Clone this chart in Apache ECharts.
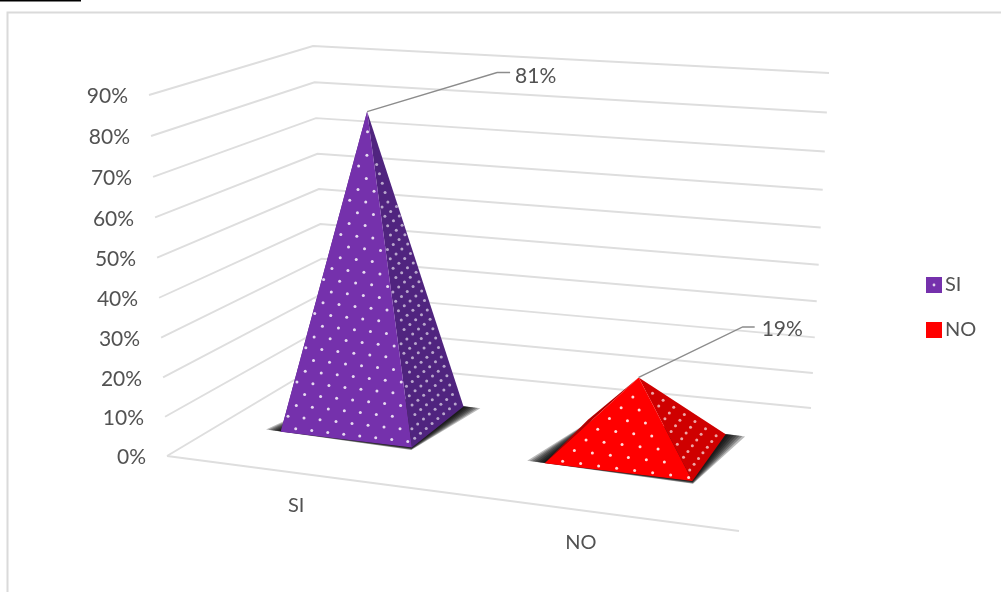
<!DOCTYPE html>
<html>
<head>
<meta charset="utf-8">
<style>html,body{margin:0;padding:0;background:#fff}#c{width:1001px;height:592px;filter:blur(0.45px)}</style>
<script src="https://cdn.jsdelivr.net/npm/echarts@6/dist/echarts.min.js"></script>
</head>
<body>
<div id="c"></div>
<script>
const categories = ['SI', 'NO'];
const siValues = [[0, 0.81]];
const noValues = [[1, 0.19]];
const siLabel = '81%';
const noLabel = '19%';
const tickValues = [0, 0.1, 0.2, 0.3, 0.4, 0.5, 0.6, 0.7, 0.8, 0.9];
const tickLabels = ['0%', '10%', '20%', '30%', '40%', '50%', '60%', '70%', '80%', '90%'];

const FONT = 'Lato, "Open Sans", sans-serif';
const TEXT = '#525252';
const AXIS_MAX = 0.9;

/* Perspective box: floor and ceiling quads (front-left, front-right, back-right, back-left) */
const floorQuad = [[167, 456], [739, 531], [811, 408], [326, 361]];
const topQuad = [[149, 95], [752, 156], [829, 73], [313, 46]];

function homography(q) {
  const [p0, p1, p2, p3] = q;
  const dx1 = p1[0] - p2[0], dx2 = p3[0] - p2[0], sx = p0[0] - p1[0] + p2[0] - p3[0];
  const dy1 = p1[1] - p2[1], dy2 = p3[1] - p2[1], sy = p0[1] - p1[1] + p2[1] - p3[1];
  const den = dx1 * dy2 - dx2 * dy1;
  const g = (sx * dy2 - dx2 * sy) / den, h = (dx1 * sy - sx * dy1) / den;
  const a = p1[0] - p0[0] + g * p1[0], b = p3[0] - p0[0] + h * p3[0], c = p0[0];
  const d = p1[1] - p0[1] + g * p1[1], e = p3[1] - p0[1] + h * p3[1], f = p0[1];
  return (u, v) => {
    const w = g * u + h * v + 1;
    return [(a * u + b * v + c) / w, (d * u + e * v + f) / w];
  };
}
const floorMap = homography(floorQuad);

/* u,v in floor units, w = 0..1 of the value axis */
function project(u, v, w) {
  const r = 1.025 + 0.03 * u + 0.015 * v;
  const t = w <= 0 ? 0 : w / (w + r * (1 - w));
  const A = floorMap(u, v);
  const weights = [(1 - u) * (1 - v), u * (1 - v), u * v, (1 - u) * v];
  let dx = 0, dy = 0;
  weights.forEach((k, i) => {
    dx += k * (topQuad[i][0] - floorQuad[i][0]);
    dy += k * (topQuad[i][1] - floorQuad[i][1]);
  });
  return [A[0] + dx * t, A[1] + dy * t];
}

/* Read the hidden cartesian scales and turn them into box coordinates */
function boxCoords(params, api, cat, val) {
  const cs = params.coordSys;
  const p = api.coord([cat, val]);
  return { u: (p[0] - cs.x) / cs.width, w: (cs.y + cs.height - p[1]) / cs.height };
}

function inside(p, t, margin) {
  let sign = 0;
  for (let i = 0; i < 3; i++) {
    const a = t[i], b = t[(i + 1) % 3];
    const ex = b[0] - a[0], ey = b[1] - a[1], len = Math.hypot(ex, ey);
    const d = (ex * (p[1] - a[1]) - ey * (p[0] - a[0])) / len;
    if (sign === 0) sign = d > 0 ? 1 : -1;
    if (d * sign < margin) return false;
  }
  return true;
}

function dotChildren(tri, o, a, b, fill) {
  const out = [];
  for (let i = -60; i <= 60; i++) for (let j = -60; j <= 60; j++) {
    const p = [tri[0][0] + o[0] + i * a[0] + j * b[0], tri[0][1] + o[1] + i * a[1] + j * b[1]];
    if (inside(p, tri, 1.5)) out.push({
      type: 'circle', silent: true,
      shape: { cx: p[0], cy: p[1], r: 1.5 },
      style: { fill: fill }
    });
  }
  return out;
}

const pyramidStyle = {
  SI: {
    front: '#7531AC', side: '#50247F', back: '#50247F', du: 0.1305, shift: 0.009,
    frontDots: { o: [15, -3], a: [16, 1.8], b: [8.3, -10.8] },
    sideDots: { o: [2.7, -9.3], a: [5.8, -4.9], b: [3, -14.3] },
    frontDot: 'rgba(255,255,255,0.82)', sideDot: 'rgba(255,255,255,0.6)',
    leader: [[130, -39], [143, -39]], label: [148, -35]
  },
  NO: {
    front: '#FF0000', side: '#CF0000', back: '#B00000', du: 0.126, shift: 0.01,
    frontDots: { o: [18, -2], a: [18, 2.3], b: [11.7, -10.7] },
    sideDots: { o: [-2.7, -11], a: [4.4, -5.7], b: [-6.2, -12.8] },
    frontDot: 'rgba(255,255,255,0.85)', sideDot: 'rgba(255,255,255,0.65)',
    leader: [[104, -50.5], [116, -50.5]], label: [123, -48]
  }
};
const depth = [0.292, 0.685];
const SHADOW_LAYERS = 7;

function poly(points, fill, extra) {
  return {
    type: 'polygon', silent: true, shape: { points: points },
    style: Object.assign({ fill: fill }, extra || {})
  };
}

function pyramidRenderer(name, labelText) {
  return function (params, api) {
    const s = pyramidStyle[name];
    const c = boxCoords(params, api, api.value(0), api.value(1));
    const uc = c.u + s.shift, u0 = uc - s.du, u1 = uc + s.du, v0 = depth[0], v1 = depth[1];
    const vc = (v0 + v1) / 2;
    const w = c.w;
    const FL = project(u0, v0, 0), FR = project(u1, v0, 0), BR = project(u1, v1, 0), BL = project(u0, v1, 0);
    const apex = project(uc, vc, w);
    const frontTri = [FL, FR, apex], sideTri = [FR, BR, apex];
    const children = [];
    /* soft floor shadow: stacked translucent quads, widest first */
    for (let k = SHADOW_LAYERS; k >= 1; k--) {
      const t = k / SHADOW_LAYERS;
      children.push(poly([
        project(u0 - 0.032 * t, v0 + 0.004, 0), project(u1 + 0.004 * t, v0 - 0.02 * t, 0),
        project(u1 + 0.034 * t, v1 + 0.0, 0), project(u0 + 0.01, v1 + 0.03 * t, 0)
      ], 'rgba(0,0,0,0.27)'));
    }
    children.push(poly([FL, BL, apex], s.back), poly(sideTri, s.side));
    children.push(...dotChildren(sideTri, s.sideDots.o, s.sideDots.a, s.sideDots.b, s.sideDot));
    children.push(poly(frontTri, s.front));
    children.push(...dotChildren(frontTri, s.frontDots.o, s.frontDots.a, s.frontDots.b, s.frontDot));
    /* leader line and data label */
    children.push({
      type: 'polyline', silent: true,
      shape: { points: [apex, [apex[0] + s.leader[0][0], apex[1] + s.leader[0][1]], [apex[0] + s.leader[1][0], apex[1] + s.leader[1][1]]] },
      style: { stroke: '#8c8c8c', lineWidth: 1.4, fill: 'none' }
    });
    children.push({
      type: 'text', silent: true,
      style: { text: labelText, x: apex[0] + s.label[0], y: apex[1] + s.label[1], fill: TEXT, fontFamily: FONT, fontSize: 21, align: 'left', verticalAlign: 'middle' }
    });
    /* category label */
    const front = floorMap(c.u, 0);
    children.push({
      type: 'text', silent: true,
      style: { text: categories[api.value(0)], x: front[0] + 3, y: front[1] + 32.5, fill: TEXT, fontFamily: FONT, fontSize: 20, align: 'center', verticalAlign: 'middle' }
    });
    return { type: 'group', children: children };
  };
}

function gridRenderer(params, api) {
  const val = api.value(1);
  const w = boxCoords(params, api, 0, val).w;
  const L = project(0, 0, w), C = project(0, 1, w), R = project(1, 1, w);
  const children = [{
    type: 'polyline', silent: true,
    shape: { points: [L, C, R] },
    style: { stroke: '#DEDEDE', lineWidth: 1.9, fill: 'none' }
  }, {
    type: 'text', silent: true,
    style: { text: tickLabels[params.dataIndex], x: L[0] - 21, y: L[1] + 1.5, fill: TEXT, fontFamily: FONT, fontSize: 21, align: 'right', verticalAlign: 'middle' }
  }];
  if (val === 0) {
    children.push({
      type: 'line', silent: true,
      shape: { x1: L[0], y1: L[1], x2: project(1, 0, 0)[0], y2: project(1, 0, 0)[1] },
      style: { stroke: '#DEDEDE', lineWidth: 1.9 }
    });
  }
  return { type: 'group', children: children };
}

const chart = echarts.init(document.getElementById('c'), null, { renderer: 'canvas' });
chart.setOption({
  animation: false,
  backgroundColor: '#ffffff',
  grid: { left: 100, right: 100, top: 100, bottom: 100 },
  xAxis: { type: 'category', data: categories, show: false },
  yAxis: { type: 'value', min: 0, max: AXIS_MAX, interval: 0.1, show: false },
  legend: {
    data: [{ name: 'SI', itemStyle: { color: '#7531AC' } }, { name: 'NO', itemStyle: { color: '#FF0000' } }],
    orient: 'vertical', left: 926, top: 275, icon: 'rect',
    itemWidth: 16, itemHeight: 16, itemGap: 25, padding: 0,
    textStyle: { color: TEXT, fontFamily: FONT, fontSize: 20, padding: [0, 0, 0, -2] },
    selectedMode: false
  },
  graphic: [
    { type: 'line', silent: true, shape: { x1: 0, y1: 0.5, x2: 81, y2: 0.5 }, style: { stroke: '#000', lineWidth: 2 } },
    { type: 'polyline', silent: true, shape: { points: [[7.5, 592], [7.5, 12.5], [1001, 12.5]] }, style: { stroke: '#DADADA', lineWidth: 2, fill: 'none' } },
    { type: 'circle', silent: true, z: 100, shape: { cx: 934, cy: 285, r: 1.4 }, style: { fill: 'rgba(255,255,255,0.8)' } }
  ],
  series: [
    {
      type: 'custom', name: 'Gridlines', coordinateSystem: 'cartesian2d', clip: false, z: 1, silent: true,
      data: tickValues.map(v => [0, v]), renderItem: gridRenderer
    },
    {
      type: 'custom', name: 'SI', coordinateSystem: 'cartesian2d', clip: false, z: 2, silent: true,
      itemStyle: { color: '#7531AC' }, data: siValues, renderItem: pyramidRenderer('SI', siLabel)
    },
    {
      type: 'custom', name: 'NO', coordinateSystem: 'cartesian2d', clip: false, z: 2, silent: true,
      itemStyle: { color: '#FF0000' }, data: noValues, renderItem: pyramidRenderer('NO', noLabel)
    }
  ]
});
</script>
</body>
</html>
